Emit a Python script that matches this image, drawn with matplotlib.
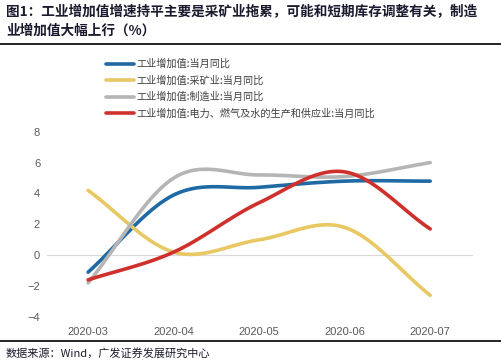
import numpy as np
import matplotlib.pyplot as plt

plt.rcParams['font.family'] = ['Noto Sans CJK SC', 'DejaVu Sans']

months = ['2020-03', '2020-04', '2020-05', '2020-06', '2020-07']
total = [-1.1, 3.9, 4.4, 4.8, 4.8]
mining = [4.2, 0.2, 1.0, 1.8, -2.6]
manuf = [-1.8, 5.0, 5.2, 5.1, 6.0]
power = [-1.6, 0.2, 3.4, 5.4, 1.7]

names = ['工业增加值:当月同比', '工业增加值:采矿业:当月同比',
         '工业增加值:制造业:当月同比', '工业增加值:电力、燃气及水的生产和供应业:当月同比']
colors = ['#1f69a5', '#e8c862', '#b5b5b5', '#d0302c']


def smooth(y, n=30):
    # catmull-rom style smoothing between the monthly points
    y = np.asarray(y, dtype=float)
    x = np.arange(len(y), dtype=float)
    px = np.concatenate([[2 * x[0] - x[1]], x, [2 * x[-1] - x[-2]]])
    py = np.concatenate([[2 * y[0] - y[1]], y, [2 * y[-1] - y[-2]]])
    xs, ys = [], []
    for i in range(1, len(px) - 2):
        t = np.linspace(0, 1, n, endpoint=False)
        p0, p1, p2, p3 = py[i - 1], py[i], py[i + 1], py[i + 2]
        q0, q1, q2, q3 = px[i - 1], px[i], px[i + 1], px[i + 2]
        f = lambda a, b, c, d: 0.5 * (2 * b + (-a + c) * t + (2 * a - 5 * b + 4 * c - d) * t ** 2
                                      + (-a + 3 * b - 3 * c + d) * t ** 3)
        xs.append(f(q0, q1, q2, q3))
        ys.append(f(p0, p1, p2, p3))
    xs.append([x[-1]])
    ys.append([y[-1]])
    return np.concatenate(xs), np.concatenate(ys)


fig = plt.figure(figsize=(5.01, 3.63), dpi=100)
ax = fig.add_axes([0.094, 0.127, 0.85, 0.51])

for s, c, lab in zip([total, mining, manuf, power], colors, names):
    sx, sy = smooth(s)
    ax.plot(sx, sy, color=c, lw=2.6, label=lab, solid_capstyle='round')

ax.axhline(0, color='#d9d9d9', lw=0.8, zorder=0)
ax.set_xlim(-0.48, 4.5)
ax.set_ylim(-4, 8)
ax.set_yticks(range(-4, 9, 2))
ax.set_xticks(range(len(months)))
ax.set_xticklabels(months)
for sp in ax.spines.values():
    sp.set_visible(False)
ax.tick_params(length=0, colors='#595959', labelsize=8, pad=7)
ax.tick_params(axis='y', pad=5)
for t in ax.get_xticklabels() + ax.get_yticklabels():
    t.set_family(['Liberation Sans', 'DejaVu Sans'])

leg = fig.legend(loc='upper left', bbox_to_anchor=(0.212, 0.838), frameon=False,
                 fontsize=7.3, handlelength=2.7, handletextpad=0.3, labelspacing=0.62,
                 borderaxespad=0, borderpad=0)
for t in leg.get_texts():
    t.set_color('#404040')

fig.text(0.012, 0.985, '图1：工业增加值增速持平主要是采矿业拖累，可能和短期库存调整有关，制造\n业增加值大幅上行（%）',
         fontsize=9.8, fontweight='bold', color='#1a1a2e', va='top', ha='left', linespacing=1.4)
fig.add_artist(plt.Line2D([0.0, 1.0], [0.88, 0.88], color='black', lw=1.2))
fig.add_artist(plt.Line2D([0.0, 1.0], [0.061, 0.061], color='black', lw=1.2))
fig.text(0.012, 0.028, '数据来源：Wind，广发证券发展研究中心', fontsize=8, color='#1a1a2e',
         va='center', ha='left')

fig.savefig('out.png', dpi=100)
